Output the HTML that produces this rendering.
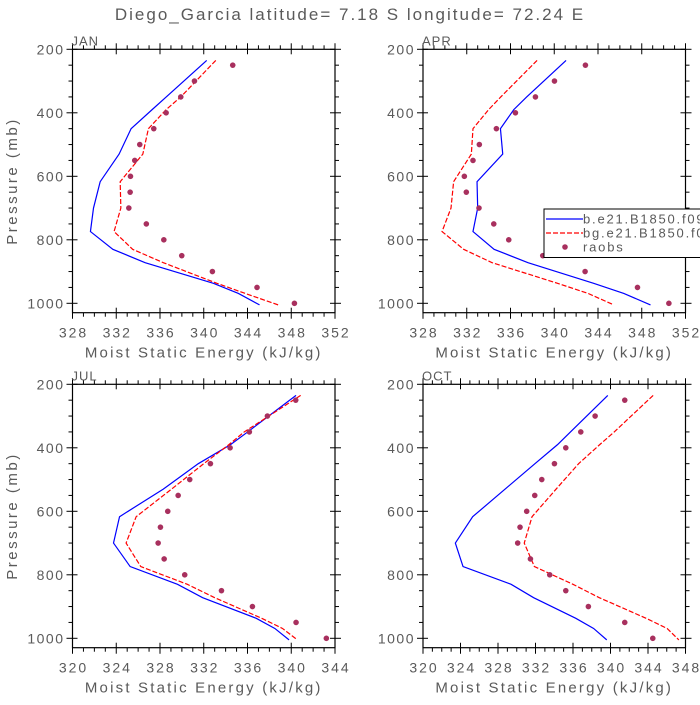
<!DOCTYPE html>
<html><head><meta charset="utf-8"><style>
html,body{margin:0;padding:0;background:#fff;}
svg text{font-family:"Liberation Sans",sans-serif;fill:#5a5a5a;}
</style></head><body>
<svg id="c" width="700" height="700" viewBox="0 0 700 700">
<rect width="700" height="700" fill="#fff"/>
<text x="350" y="20" text-anchor="middle" font-size="17" letter-spacing="2">Diego_Garcia  latitude= 7.18 S longitude= 72.24 E</text>
</svg>
<script>
const levels = [235, 350, 390, 450, 530, 617, 700, 774, 830, 872, 937, 969, 1005];
const obsLevels = [250, 300, 350, 400, 450, 500, 550, 600, 650, 700, 750, 800, 850, 900, 950, 1000];
const yTicks = [200, 400, 600, 800, 1000];
const janB = [340.27, 336.57, 335.28, 333.36, 332.26, 330.53, 329.92, 329.64, 331.69, 334.64, 340.88, 343.17, 345.1];
const janR = [341.1, 337.9, 336.56, 334.94, 334.43, 332.36, 332.42, 331.8, 333.5, 336.3, 341.2, 343.8, 346.8];
const janO = [342.65, 339.15, 337.9, 336.56, 335.43, 334.15, 333.69, 333.3, 333.27, 333.15, 334.75, 336.35, 337.99, 340.79, 344.87, 348.29];
const aprB = [341.08, 337.48, 336.3, 335.08, 335.29, 332.94, 333.0, 332.57, 334.5, 337.6, 343.6, 346.36, 348.8];
const aprR = [338.43, 335.11, 334.0, 332.57, 332.42, 330.8, 330.56, 329.74, 331.72, 334.31, 340.3, 343.1, 345.44];
const aprO = [342.85, 340.02, 338.28, 336.45, 334.71, 333.15, 332.57, 331.78, 331.96, 333.12, 334.47, 335.84, 338.95, 342.82, 347.61, 350.48];
const julB = [340.44, 336.02, 334.45, 331.5, 328.3, 324.3, 323.75, 325.27, 329.6, 331.9, 336.8, 338.5, 339.8];
const julR = [340.86, 335.7, 334.3, 332.0, 329.06, 325.82, 324.9, 326.24, 330.5, 333.0, 337.3, 339.2, 340.56];
const julO = [340.41, 337.82, 336.17, 334.41, 332.61, 330.72, 329.66, 328.71, 328.04, 327.83, 328.38, 330.26, 333.62, 336.45, 340.44, 343.21];
const octB = [339.71, 335.73, 334.35, 331.94, 328.76, 325.3, 323.45, 324.27, 329.4, 331.8, 336.3, 338.2, 339.6];
const octR = [344.55, 340.4, 338.85, 336.6, 334.2, 331.63, 330.8, 331.88, 336.0, 338.8, 343.8, 346.04, 347.29];
const octO = [341.52, 338.36, 336.83, 335.23, 334.02, 332.67, 331.92, 331.06, 330.35, 330.1, 331.46, 333.52, 335.23, 337.64, 341.52, 344.51];
const janX = [328, 352]; const aprX = [328, 352]; const julX = [320, 344]; const octX = [320, 348];

const NS = 'http://www.w3.org/2000/svg';
const svg = document.getElementById('c');
function mk(tag, attrs, parent){const e=document.createElementNS(NS,tag);for(const k in attrs)e.setAttribute(k,attrs[k]);(parent||svg).appendChild(e);return e;}

const panels = [
 {name:'jan',label:'JAN',x0:72.5,y0:49.3,xr:janX,b:janB,r:janR,o:janO,ylab:true},
 {name:'apr',label:'APR',x0:423,y0:49.3,xr:aprX,b:aprB,r:aprR,o:aprO,ylab:false},
 {name:'jul',label:'JUL',x0:72.5,y0:384.3,xr:julX,b:julB,r:julR,o:julO,ylab:true},
 {name:'oct',label:'OCT',x0:423,y0:384.3,xr:octX,b:octB,r:octR,o:octO,ylab:false}
];
const W=262.5, H=263.4;
panels.forEach(p=>{
  const g=mk('g',{});
  
  
  const xs=v=>p.x0+(v-p.xr[0])/(p.xr[1]-p.xr[0])*W;
  const ys=pr=>p.y0+(pr-200)/800*254;
  for(let v=p.xr[0];v<=p.xr[1];v++){
    const major=(v-p.xr[0])%4===0; const X=xs(v);
    const L=major?6:4;
    mk('line',{x1:X,x2:X,y1:p.y0-L,y2:p.y0+(major?5:0),stroke:'#000','stroke-width':1},g);
    mk('line',{x1:X,x2:X,y1:p.y0+H+L,y2:p.y0+H-(major?5:0),stroke:'#000','stroke-width':1},g);
    if(major){const t=mk('text',{x:X+1,y:p.y0+H+25,'text-anchor':'middle','font-size':14,'letter-spacing':2},g);t.textContent=v;
      }
  }
  for(let pr=200;pr<=1025;pr+=50){
    const major=pr%200===0; const Y=ys(pr);
    const L=major?6:4;
    mk('line',{x1:p.x0-L,x2:p.x0+(major?5:0),y1:Y,y2:Y,stroke:'#000','stroke-width':1},g);
    mk('line',{x1:p.x0+W+L,x2:p.x0+W-(major?5:0),y1:Y,y2:Y,stroke:'#000','stroke-width':1},g);
  }
  yTicks.forEach(pr=>{const t=mk('text',{x:p.x0-8,y:ys(pr)+5,'text-anchor':'end','font-size':14,'letter-spacing':1.5},g);t.textContent=pr;
    });
  mk('rect',{x:p.x0,y:p.y0,width:W,height:H,fill:'none',stroke:'#000','stroke-width':1.2},g);
  const lb=mk('text',{x:p.x0-1,y:p.y0-4,'font-size':13,'letter-spacing':1},g);lb.textContent=p.label;
  
  const xt=mk('text',{x:p.x0+W/2,y:p.y0+H+45,'text-anchor':'middle','font-size':15,'letter-spacing':2.2},g);xt.textContent='Moist Static Energy (kJ/kg)';
  
  if(p.ylab){const cy=p.y0+H/2;const yt=mk('text',{x:17,y:cy,'text-anchor':'middle','font-size':15,'letter-spacing':2.5,transform:`rotate(-90 17 ${cy})`},g);yt.textContent='Pressure (mb)';
    }
  const pb=mk('polyline',{points:levels.map((l,i)=>xs(p.b[i])+','+ys(l)).join(' '),fill:'none',stroke:'#0000ff','stroke-width':1.2},g);
  
  const pr_=mk('polyline',{points:levels.map((l,i)=>xs(p.r[i])+','+ys(l)).join(' '),fill:'none',stroke:'#ff0000','stroke-width':1.2,'stroke-dasharray':'5,2'},g);
  
  obsLevels.forEach((l,i)=>{const c=mk('circle',{cx:xs(p.o[i]),cy:ys(l),r:2.8,fill:'#a8305e'},g);
    });
});
const lg=mk('g',{});


mk('rect',{x:544,y:209,width:170,height:48.5,fill:'#fff',stroke:'#000','stroke-width':1},lg);
mk('line',{x1:546,x2:583,y1:219,y2:219,stroke:'#0000ff','stroke-width':1.2},lg);
mk('line',{x1:546,x2:583,y1:233,y2:233,stroke:'#ff0000','stroke-width':1.2,'stroke-dasharray':'5,2'},lg);
mk('circle',{cx:565,cy:247,r:2.8,fill:'#a8305e'},lg);
[['b.e21.B1850.f09',223.5],['bg.e21.B1850.f09',237.5],['raobs',251.5]].forEach(([s,y])=>{const t=mk('text',{x:583,y:y,'font-size':13,'letter-spacing':1.8},lg);t.textContent=s;
  });
</script>
</body></html>
